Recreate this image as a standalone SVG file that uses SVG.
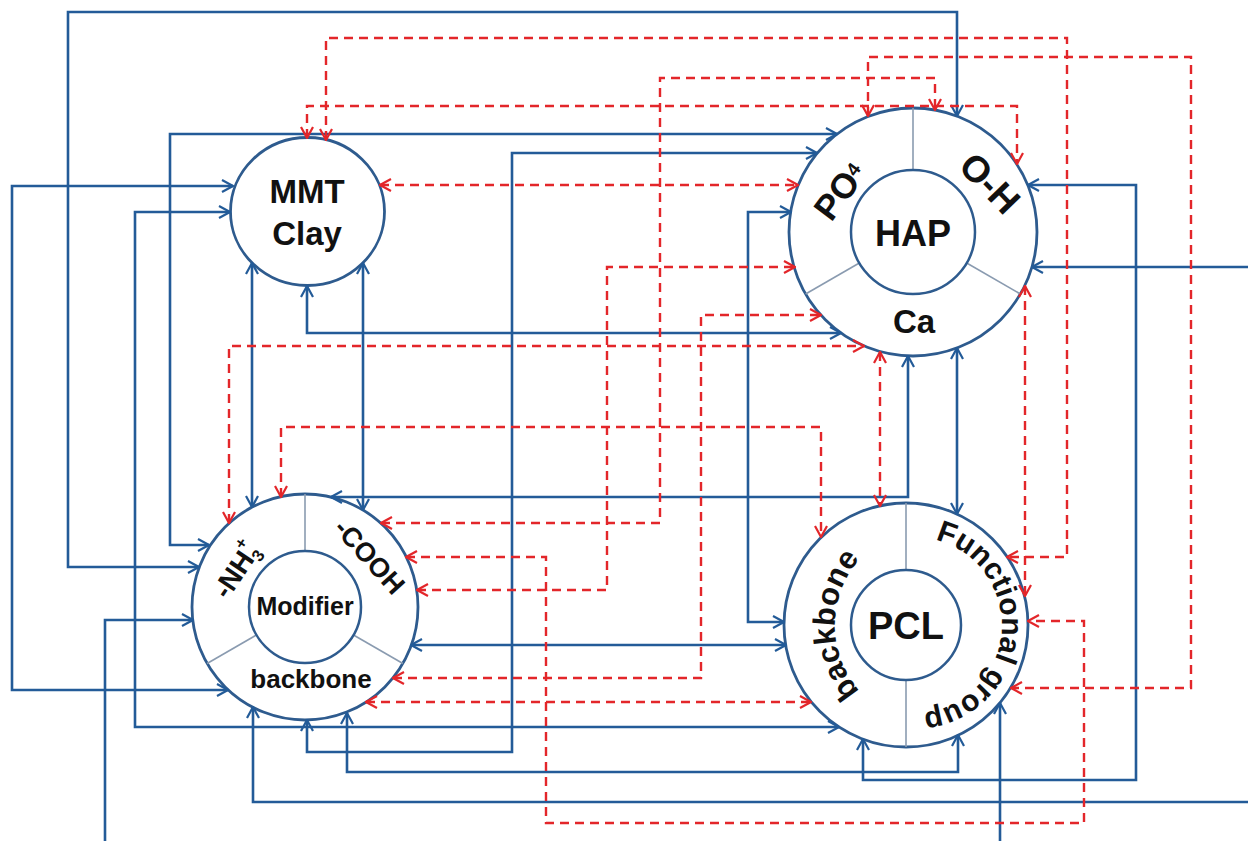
<svg xmlns="http://www.w3.org/2000/svg" width="1248" height="841" viewBox="0 0 1248 841">
<style>
.b{fill:none;stroke:#235b98;stroke-width:2.6}
.r{fill:none;stroke:#e3262a;stroke-width:2.4;stroke-dasharray:9 6}
.b2{marker-start:url(#ab);marker-end:url(#ab)}
.b1{marker-end:url(#ab)}
.bs{marker-start:url(#ab)}
.r2{marker-start:url(#ar);marker-end:url(#ar)}
.ring{fill:#fff;stroke:#2e5b8e;stroke-width:2.8}
.inner{fill:#fff;stroke:#2e5b8e;stroke-width:2.5}
.div{stroke:#8a9bb0;stroke-width:1.6}
.t{font-family:"Liberation Sans",Arial,sans-serif;font-weight:700;fill:#111}
</style>
<defs>
<marker id="ab" viewBox="0 0 14 14" refX="13" refY="7" markerWidth="14" markerHeight="14" markerUnits="userSpaceOnUse" orient="auto-start-reverse"><path d="M2,1 L13,7 L2,13" fill="none" stroke="#235b98" stroke-width="2.2"/></marker>
<marker id="ar" viewBox="0 0 14 14" refX="13" refY="7" markerWidth="14" markerHeight="14" markerUnits="userSpaceOnUse" orient="auto-start-reverse"><path d="M2,1 L13,7 L2,13" fill="none" stroke="#e3262a" stroke-width="2.2"/></marker>
<path id="pclBack" d="M917.6,723.5 A100 100 0 0 1 917.6,526.5"/>
<path id="pclFunc" d="M919.8,537.2 A88 88 0 0 1 907.5,713"/>
</defs>
<rect width="1248" height="841" fill="#fff"/>

<g id="node-mmt">
<ellipse class="ring" cx="307.5" cy="211.5" rx="77" ry="74"/>
<text class="t" x="307" y="203" font-size="33" text-anchor="middle">MMT</text>
<text class="t" x="307" y="245" font-size="33" text-anchor="middle">Clay</text>
</g>

<g id="node-hap">
<circle class="ring" cx="913" cy="232" r="124"/>
<line class="div" x1="913" y1="108" x2="913" y2="170"/>
<line class="div" x1="859.3" y1="263" x2="805.6" y2="294"/>
<line class="div" x1="966.7" y1="263" x2="1020.4" y2="294"/>
<circle class="inner" cx="913" cy="232" r="62"/>
<text class="t" x="913" y="246" font-size="36" text-anchor="middle">HAP</text>
<text class="t" x="914" y="333" font-size="33" text-anchor="middle">Ca</text>
<text class="t" transform="translate(840,191) rotate(-53)" font-size="35" text-anchor="middle" y="12">PO<tspan font-size="19" dy="-8">4</tspan></text>
<text class="t" transform="translate(990,183) rotate(46)" font-size="37" text-anchor="middle" y="13">O-H</text>
</g>

<g id="node-modifier">
<circle class="ring" cx="305" cy="607" r="113"/>
<line class="div" x1="305" y1="494" x2="305" y2="551"/>
<line class="div" x1="256.5" y1="635" x2="207.1" y2="663.5"/>
<line class="div" x1="353.5" y1="635" x2="402.9" y2="663.5"/>
<circle class="inner" cx="305" cy="607" r="56"/>
<text class="t" x="305" y="615" font-size="25" text-anchor="middle">Modifier</text>
<text class="t" x="311" y="688" font-size="26" text-anchor="middle">backbone</text>
<text class="t" transform="translate(236,570) rotate(-56)" font-size="28" text-anchor="middle" y="10">-NH<tspan font-size="17" dy="6">3</tspan><tspan font-size="17" dx="-9" dy="-21">+</tspan></text>
<text class="t" transform="translate(370,556) rotate(48)" font-size="27" text-anchor="middle" y="10">-COOH</text>
</g>

<g id="node-pcl">
<circle class="ring" cx="906" cy="625" r="122"/>
<line class="div" x1="906" y1="503" x2="906" y2="570" stroke="#2e5b8e"/>
<line class="div" x1="906" y1="680" x2="906" y2="747" stroke="#2e5b8e"/>
<circle class="inner" cx="906" cy="625" r="55"/>
<text class="t" x="906" y="639" font-size="38" text-anchor="middle">PCL</text>
<text class="t" font-size="31"><textPath href="#pclBack" startOffset="50%" text-anchor="middle">backbone</textPath></text>
<text class="t" font-size="30"><textPath href="#pclFunc" startOffset="50%" text-anchor="middle">Functional group</textPath></text>
</g>

<g id="connectors">
<path class="b b2" d="M199,567 L68,567 L68,12 L957,12 L957,116"/>
<path class="b b2" d="M233,186 L12,186 L12,690 L228,690"/>
<path class="b b2" d="M230,212 L135,212 L135,727 L839,727"/>
<path class="b b2" d="M209,545 L170,545 L170,134 L837,134"/>
<path class="b b2" d="M307,720 L307,752 L512,752 L512,153 L817,153"/>
<path class="b b2" d="M347,713 L347,772 L958,772 L958,735"/>
<path class="b bs" d="M253,707 L253,802 L1250,802"/>
<path class="b b1" d="M105,845 L105,620 L193,620"/>
<path class="b b1" d="M1000,845 L1000,703"/>
<path class="b b1" d="M1250,267 L1032,267"/>
<path class="b b2" d="M908,356 L908,497 L331,497"/>
<path class="b b2" d="M957,348 L957,514"/>
<path class="b b2" d="M307,286 L307,333 L841,333"/>
<path class="b b2" d="M252,263 L252,507"/>
<path class="b b2" d="M363,263 L363,510"/>
<path class="b b2" d="M411,645 L786,645"/>
<path class="b b2" d="M791,212 L748,212 L748,622 L784,622"/>
<path class="b b2" d="M1028,185 L1136,185 L1136,780 L863,780 L863,739"/>

<path class="r r2" d="M326,140 L326,38 L1067,38 L1067,557 L1007,557"/>
<path class="r r2" d="M307,138 L307,106 L1017,106 L1017,164"/>
<path class="r r2" d="M381,523 L660,523 L660,78 L935,78 L935,110"/>
<path class="r r2" d="M868,116 L868,57 L1191,57 L1191,688 L1011,688"/>
<path class="r r2" d="M380,185 L798,185"/>
<path class="r r2" d="M417,590 L607,590 L607,267 L795,267"/>
<path class="r r2" d="M393,678 L701,678 L701,315 L821,315"/>
<path class="r r2" d="M281,497 L281,427 L821,427 L821,537"/>
<path class="r r2" d="M229,523 L229,346 L864,346"/>
<path class="r r2" d="M880,352 L880,506"/>
<path class="r r2" d="M1025,286 L1025,596"/>
<path class="r r2" d="M406,557 L546,557 L546,823 L1084,823 L1084,621 L1028,621"/>
<path class="r r2" d="M366,702 L811,702"/>
</g>
</svg>
